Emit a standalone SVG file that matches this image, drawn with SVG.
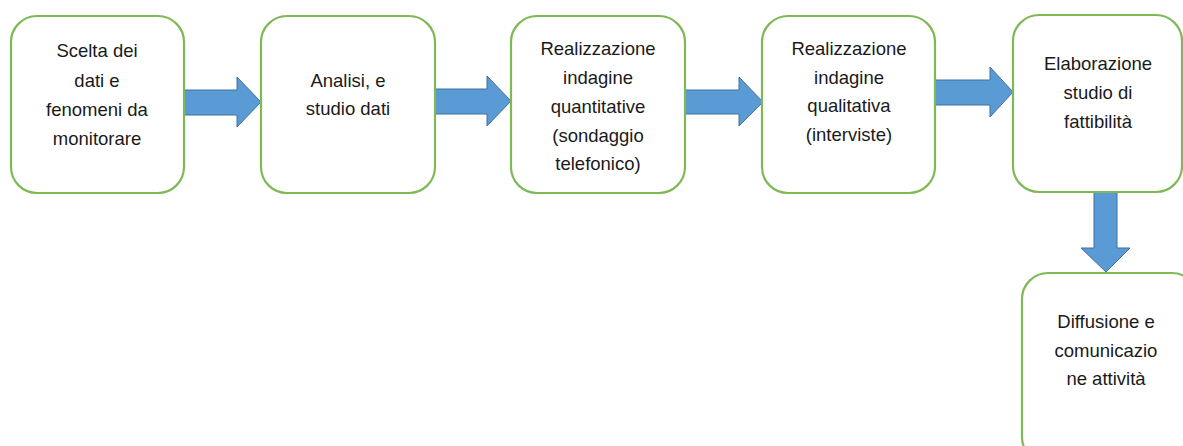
<svg xmlns="http://www.w3.org/2000/svg" width="1183" height="446" viewBox="0 0 1183 446">
<style>
.box{fill:#ffffff;stroke:#7EB956;stroke-width:2.2}
.arr{fill:#5B9BD5;stroke:#41719C;stroke-width:1}
text{font-family:"Liberation Sans",Arial,sans-serif;font-size:18.5px;fill:#1a1a1a;text-anchor:middle}
</style>
<rect width="1183" height="446" fill="#ffffff"/>
<g id="connectors">
<path class="arr" d="M184,90 H237 V77 L261,102 L237,127 V115 H184 Z"/>
<path class="arr" d="M435,89 H487 V76 L511,101 L487,126 V114 H435 Z"/>
<path class="arr" d="M685,90 H739 V77 L763,102 L739,126 V114 H685 Z"/>
<path class="arr" d="M934,80 H990 V67 L1013,92 L990,117 V105 H934 Z"/>
<path class="arr" d="M1094,192 H1117 V248 H1130 L1106,272 L1081,248 H1094 Z"/>
</g>
<g id="n1">
<rect class="box" x="11" y="16" width="173" height="177" rx="26"/>
<text x="97" y="57">Scelta dei</text>
<text x="97" y="87">dati e</text>
<text x="97" y="116">fenomeni da</text>
<text x="97" y="145">monitorare</text>
</g>
<g id="n2">
<rect class="box" x="261" y="16" width="174" height="177" rx="26"/>
<text x="348" y="87">Analisi, e</text>
<text x="348" y="115">studio dati</text>
</g>
<g id="n3">
<rect class="box" x="511" y="16" width="174" height="177" rx="26"/>
<text x="598" y="55">Realizzazione</text>
<text x="598" y="84">indagine</text>
<text x="598" y="113">quantitative</text>
<text x="598" y="142">(sondaggio</text>
<text x="598" y="170">telefonico)</text>
</g>
<g id="n4">
<rect class="box" x="762" y="16" width="173" height="177" rx="26"/>
<text x="849" y="55">Realizzazione</text>
<text x="849" y="84">indagine</text>
<text x="849" y="112">qualitativa</text>
<text x="849" y="141">(interviste)</text>
</g>
<g id="n5">
<rect class="box" x="1013" y="15" width="169" height="177" rx="26"/>
<text x="1098" y="70">Elaborazione</text>
<text x="1098" y="99">studio di</text>
<text x="1098" y="128">fattibilità</text>
</g>
<g id="n6">
<rect class="box" x="1022" y="273" width="176" height="190" rx="26"/>
<text x="1106" y="328">Diffusione e</text>
<text x="1106" y="357">comunicazio</text>
<text x="1106" y="385">ne attività</text>
</g>
</svg>
